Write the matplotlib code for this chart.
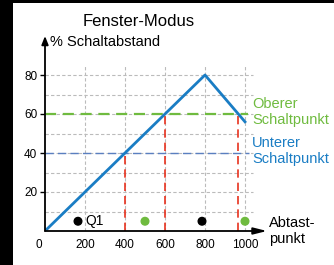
import matplotlib
matplotlib.use("Agg")
from matplotlib import pyplot as plt
from matplotlib.patches import Rectangle
import matplotlib.transforms as mtransforms

plt.rcParams['font.family'] = ['Liberation Sans', 'DejaVu Sans']

# data
curve_x = [0, 800, 1000]
curve_y = [0, 80, 56]
upper_level = 60
lower_level = 40
switch_x = [400, 600, 967]
switch_y = [40, 60, 60]
dots_x = [165, 500, 785, 1000]
dots_y = [5, 5, 5, 5]
dots_col = ["black", "#6fbb3f", "black", "#6fbb3f"]
xticks = [0, 200, 400, 600, 800, 1000]
yticks = [20, 40, 60, 80]
grid_y = [10, 20, 30, 40, 50, 60, 70, 80]
grid_x = [200, 400, 600, 800, 1000]

blue = "#1a7dc4"
green = "#6fbb3f"
red = "#e8321e"

fig = plt.figure(figsize=(3.34, 2.65), dpi=100)
fig.patch.set_facecolor("black")
# white area (black strip left and top in the reference)
fig.add_artist(Rectangle((13/334, 0), 1, 262/265, transform=fig.transFigure,
                         facecolor="white", edgecolor="none", zorder=0))

ax = fig.add_axes([45/334, 34/265, 222/334, 195/265])
ax.set_facecolor("none")
ax.set_xlim(0, 1110)
ax.set_ylim(0, 100)
for s in ax.spines.values():
    s.set_visible(False)

#grid
ax.hlines(grid_y, 0, 1040, colors="#bbbbbb", linestyles=(0, (3, 2)), linewidth=0.8, zorder=1)
ax.vlines(grid_x, 0, 85, colors="#bbbbbb", linestyles=(0, (3, 2)), linewidth=0.8, zorder=1)

#switch levels
ax.hlines(upper_level, 0, 1015, colors=green, linestyles=(0, (5, 3)), linewidth=1.6, zorder=2)
ax.hlines(lower_level, 0, 1020, colors="#5a7fc0", linestyles=(0, (6, 3)), linewidth=1.0, zorder=2)
ax.vlines(switch_x, 0, switch_y, colors=red, linestyles=(0, (5, 3)), linewidth=1.2, zorder=2)

ax.plot(curve_x, curve_y, color=blue, linewidth=2, zorder=3)
ax.scatter(dots_x, dots_y, c=dots_col, s=30, zorder=4, clip_on=False)
ax.text(200, 5, "Q1", fontsize=10, va="center", ha="left")

#axis arrows
ax.annotate("", xy=(0, 100), xytext=(0, 0),
            arrowprops=dict(arrowstyle="-|>,head_length=0.5,head_width=0.2", color="black", lw=1.3,
                            shrinkA=0, shrinkB=0), annotation_clip=False)
ax.annotate("", xy=(1110, 0), xytext=(0, 0),
            arrowprops=dict(arrowstyle="-|>,head_length=0.8,head_width=0.2", color="black", lw=1.3,
                            shrinkA=0, shrinkB=0), annotation_clip=False)

ax.set_xticks(xticks)
ax.set_xticklabels([str(v) for v in xticks], fontsize=8.5)
ax.set_yticks(yticks)
ax.set_yticklabels([str(v) for v in yticks], fontsize=8.5)
ax.tick_params(axis="x", length=0, pad=6)
ax.tick_params(axis="y", length=3.5, width=1, pad=2)
lab0 = ax.get_xticklabels()[0]
lab0.set_transform(lab0.get_transform() + mtransforms.ScaledTranslation(-6/100, 0, fig.dpi_scale_trans))

ax.text(25, 97, "% Schaltabstand", fontsize=10.5, va="center", ha="left")
fig.text(139/334, 1 - 22/265, "Fenster-Modus", fontsize=12, ha="center", va="center")
ax.text(1035, 61, "Oberer\nSchaltpunkt", color=green, fontsize=10.5, va="center", ha="left",
        linespacing=1.15)
ax.text(1035, 41, "Unterer\nSchaltpunkt", color=blue, fontsize=10.5, va="center", ha="left",
        linespacing=1.15)
ax.text(1118, 0, "Abtast-\npunkt", color="black", fontsize=10.5, va="center", ha="left",
        linespacing=1.1)

fig.savefig("out.png", dpi=100, facecolor=fig.get_facecolor())
